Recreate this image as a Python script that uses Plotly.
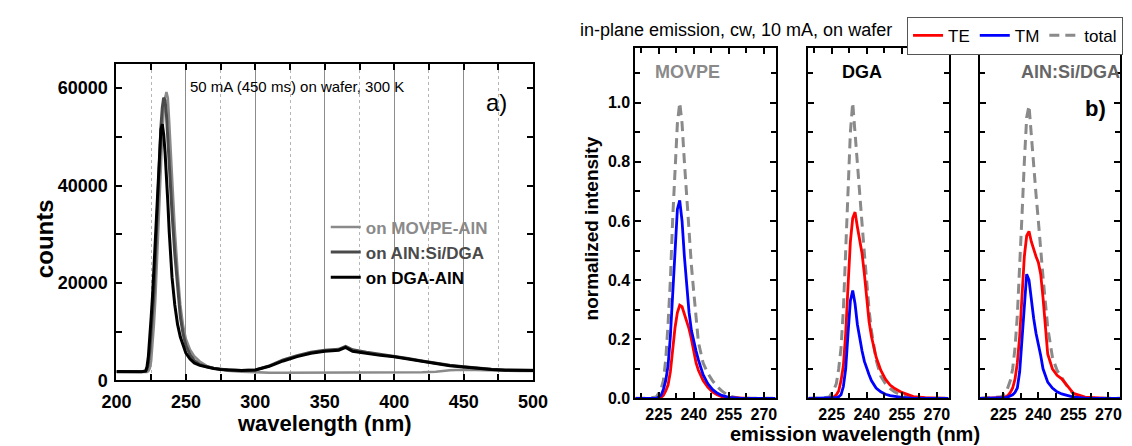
import plotly.graph_objects as go

# ---------------- data: panel a) electroluminescence spectra ----------------
wl_a = [200, 205, 210, 215, 218, 221, 222, 223, 224, 225, 226, 227, 228, 229, 230,
        231, 232, 233, 234, 235, 236, 237, 238, 239, 240, 242, 244, 246, 248, 250,
        253, 256, 260, 265, 270, 275, 280, 290, 300, 310, 320, 330, 340, 350, 360,
        365, 370, 380, 390, 400, 410, 420, 430, 440, 450, 460, 470, 480, 490, 500]

counts_movpe = [1700, 1700, 1700, 1700, 1700, 1700, 1750, 1900, 2500, 4000, 7000, 11500, 16500, 23500, 31000,
                38500, 45500, 50500, 55000, 58000, 59200, 58000, 53000, 47000, 41000, 31000, 22500, 15500, 11200, 8500,
                6300, 5000, 3900, 3000, 2500, 2200, 2000, 1800, 1650, 1600, 1600, 1600, 1650, 1600, 1650,
                1650, 1600, 1650, 1650, 1700, 1700, 1700, 1800, 2100, 2200, 2100, 2000, 1950, 1950, 1950]

counts_alnsi = [1850, 1850, 1800, 1850, 1800, 1900, 2300, 3500, 6000, 9500, 13000, 18000, 25000, 32000, 40000,
                46500, 52000, 56000, 58000, 57500, 54500, 49500, 43500, 38500, 34500, 26000, 18500, 13000, 9500, 7200,
                5300, 4100, 3300, 2800, 2500, 2300, 2150, 2050, 2150, 3000, 4200, 5100, 5800, 6200, 6400,
                7000, 6300, 5800, 5400, 5000, 4500, 4000, 3500, 3100, 2800, 2500, 2300, 2150, 2100, 2100]

counts_dga = [1850, 1800, 1850, 1800, 1800, 1950, 2800, 5000, 8500, 13000, 17500, 23500, 30000, 36500, 42500,
              47500, 51500, 52600, 50500, 46800, 42200, 36500, 30500, 25500, 21200, 15500, 11500, 8900, 7000, 5600,
              4400, 3600, 3100, 2700, 2450, 2250, 2150, 2050, 2150, 2900, 4000, 4900, 5600, 6000, 6200,
              6800, 6000, 5500, 5150, 4850, 4350, 3900, 3400, 3000, 2750, 2450, 2250, 2100, 2050, 2050]

# ---------------- data: panel b) normalized TE / TM / total ----------------
wl_b = [215, 220, 224, 226, 227, 228, 229, 230, 231, 232, 233, 234, 235, 236, 237,
        238, 239, 240, 241, 242, 244, 246, 248, 250, 252, 255, 260, 265, 270, 275]

movpe_total = [0, 0, 0.005, 0.03, 0.06, 0.13, 0.25, 0.40, 0.61, 0.80, 0.93, 1.0, 0.93, 0.80, 0.68,
               0.55, 0.45, 0.36, 0.28, 0.19, 0.12, 0.085, 0.06, 0.04, 0.025, 0.008, 0, 0, 0, 0]
movpe_te = [0, 0, 0, 0.003, 0.01, 0.025, 0.045, 0.09, 0.17, 0.24, 0.29, 0.315, 0.31, 0.285, 0.26,
            0.235, 0.20, 0.16, 0.12, 0.095, 0.06, 0.038, 0.022, 0.012, 0.006, 0.002, 0, 0, 0, 0]
movpe_tm = [0, 0, 0, 0.01, 0.03, 0.06, 0.11, 0.21, 0.35, 0.52, 0.64, 0.67, 0.60, 0.48, 0.38,
            0.29, 0.23, 0.19, 0.16, 0.13, 0.08, 0.05, 0.03, 0.018, 0.01, 0.003, 0, 0, 0, 0]

dga_total = [0, 0, 0.005, 0.03, 0.05, 0.10, 0.17, 0.30, 0.50, 0.70, 0.90, 1.0, 0.89, 0.79, 0.69,
             0.59, 0.49, 0.38, 0.30, 0.23, 0.13, 0.075, 0.05, 0.033, 0.022, 0.01, 0.002, 0, 0, 0]
dga_te = [0, 0, 0, 0.005, 0.012, 0.025, 0.06, 0.11, 0.22, 0.38, 0.53, 0.61, 0.63, 0.58, 0.53,
          0.49, 0.42, 0.33, 0.26, 0.21, 0.14, 0.095, 0.065, 0.045, 0.033, 0.02, 0.006, 0.002, 0, 0]
dga_tm = [0, 0, 0, 0, 0.002, 0.005, 0.012, 0.04, 0.10, 0.22, 0.33, 0.365, 0.32, 0.25, 0.20,
          0.16, 0.125, 0.10, 0.08, 0.06, 0.035, 0.022, 0.014, 0.009, 0.006, 0.003, 0, 0, 0, 0]

alnsi_total = [0, 0.003, 0.005, 0.015, 0.035, 0.06, 0.10, 0.17, 0.28, 0.43, 0.62, 0.80, 0.95, 0.99, 0.88,
               0.77, 0.69, 0.60, 0.50, 0.41, 0.24, 0.14, 0.095, 0.07, 0.045, 0.015, 0.002, 0, 0, 0]
alnsi_te = [0, 0, 0.002, 0.005, 0.01, 0.02, 0.035, 0.065, 0.12, 0.21, 0.36, 0.48, 0.55, 0.565, 0.53,
            0.50, 0.48, 0.46, 0.42, 0.34, 0.15, 0.10, 0.078, 0.066, 0.045, 0.017, 0.004, 0.001, 0, 0]
alnsi_tm = [0, 0, 0, 0.002, 0.005, 0.008, 0.012, 0.02, 0.035, 0.09, 0.20, 0.32, 0.42, 0.40, 0.33,
            0.27, 0.22, 0.185, 0.145, 0.10, 0.055, 0.035, 0.022, 0.015, 0.01, 0.004, 0.001, 0, 0, 0]

panel_names = ["MOVPE", "DGA", "AlN:Si/DGA"]
panel_series = [(movpe_te, movpe_tm, movpe_total),
                (dga_te, dga_tm, dga_total),
                (alnsi_te, alnsi_tm, alnsi_total)]

# ---------------- figure ----------------
W, H = 1132, 446
FONT = "Arial, Liberation Sans, Helvetica, sans-serif"


def fx(p):
    return p / W


def fy(p):
    return 1 - p / H


fig = go.Figure()

# panel a traces
for name, vals, col, w in [("on MOVPE-AlN", counts_movpe, "#8a8a8a", 2.5),
                           ("on AlN:Si/DGA", counts_alnsi, "#4a4a4a", 3),
                           ("on DGA-AlN", counts_dga, "#000000", 3)]:
    fig.add_trace(go.Scatter(
        x=wl_a, y=vals, mode="lines", xaxis="x", yaxis="y",
        line=dict(color=col, width=w),
        name=f"<span style='color:{col}'>{name}</span>",
        legend="legend", showlegend=True))

# panel b traces
DASH = "10px,6px"
for i, (te, tm, tot) in enumerate(panel_series):
    xa = f"x{i + 2}"
    ya = f"y{i + 2}"
    show = (i == 0)
    fig.add_trace(go.Scatter(x=wl_b, y=tot, mode="lines", xaxis=xa, yaxis=ya,
                             line=dict(color="#8a8a8a", width=3, dash=DASH),
                             name="total", legend="legend2", showlegend=False))
    fig.add_trace(go.Scatter(x=wl_b, y=te, mode="lines", xaxis=xa, yaxis=ya,
                             line=dict(color="#ff0000", width=2.8),
                             name="TE", legend="legend2", showlegend=show))
    fig.add_trace(go.Scatter(x=wl_b, y=tm, mode="lines", xaxis=xa, yaxis=ya,
                             line=dict(color="#0000ff", width=2.8),
                             name="TM", legend="legend2", showlegend=show))
# legend entry for total (last in order)
fig.add_trace(go.Scatter(x=[None], y=[None], mode="lines", xaxis="x2", yaxis="y2",
                         line=dict(color="#8a8a8a", width=3, dash=DASH),
                         name="total", legend="legend2", showlegend=True))

axis_common = dict(showline=True, linewidth=2, linecolor="black", mirror="ticks",
                   ticks="inside", tickwidth=1.5, tickcolor="black", zeroline=False)

layout = dict(
    width=W, height=H, autosize=False,
    margin=dict(l=0, r=0, t=0, b=0),
    paper_bgcolor="white", plot_bgcolor="white",
    font=dict(family=FONT, color="black"),
    xaxis=dict(domain=[fx(96), fx(524)], range=[200, 500], anchor="y",
               tick0=200, dtick=50, ticklen=6, ticklabelstandoff=4,
               showgrid=True, gridcolor="#8c8c8c", gridwidth=1,
               minor=dict(dtick=25, tick0=200, ticks="inside", ticklen=6, tickcolor="black",
                          showgrid=True, griddash="dot", gridcolor="#b5b5b5", gridwidth=1),
               tickfont=dict(size=18, weight="bold", family=FONT),
               **axis_common),
    yaxis=dict(domain=[fy(381), fy(57)], range=[0, 65000], anchor="x",
               tick0=0, dtick=20000, tickformat="d", ticklen=6, ticklabelstandoff=3,
               showgrid=False,
               minor=dict(dtick=10000, ticks="inside", ticklen=6, tickcolor="black"),
               tickfont=dict(size=18, weight="bold", family=FONT),
               **axis_common),
    legend=dict(x=fx(311), y=fy(206), xanchor="left", yanchor="top",
                bgcolor="rgba(0,0,0,0)", borderwidth=0,
                font=dict(size=17, weight="bold", family=FONT),
                traceorder="normal", tracegroupgap=0),
    legend2=dict(orientation="h", x=fx(1130), y=fy(9), xanchor="right", yanchor="top",
                 bgcolor="white", bordercolor="#555555", borderwidth=1,
                 font=dict(size=17, family=FONT), traceorder="normal"),
)

right_left = [629, 806.7, 983]
for i, lft in enumerate(right_left):
    n = i + 2
    layout[f"xaxis{n}"] = dict(domain=[fx(lft), fx(lft + 144)], range=[215, 275], anchor=f"y{n}",
                               tick0=225, dtick=15, ticklen=6, showgrid=False,
                               minor=dict(dtick=7.5, tick0=225, ticks="inside", ticklen=5, tickcolor="black"),
                               tickfont=dict(size=16, weight="bold", family=FONT),
                               **axis_common)
    layout[f"yaxis{n}"] = dict(domain=[fy(399.3), fy(41)], range=[0, 1.185], anchor=f"x{n}",
                               tick0=0, dtick=0.2, tickformat=".1f", ticklen=6, showgrid=False,
                               showticklabels=(i == 0),
                               minor=dict(dtick=0.1, ticks="inside", ticklen=5, tickcolor="black"),
                               tickfont=dict(size=16, weight="bold", family=FONT),
                               **axis_common)

fig.update_layout(**layout)

ann = []
# panel a texts
ann.append(dict(text="counts", x=fx(22), y=fy(236), textangle=-90, showarrow=False,
                xref="paper", yref="paper", xanchor="center", yanchor="middle",
                font=dict(size=24, weight="bold", family=FONT)))
ann.append(dict(text="wavelength (nm)", x=fx(310), y=fy(425), showarrow=False,
                xref="paper", yref="paper", xanchor="center", yanchor="middle",
                font=dict(size=22, weight="bold", family=FONT)))
ann.append(dict(text="50 mA (450 ms) on wafer, 300 K", x=fx(169), y=fy(80), showarrow=False,
                xref="paper", yref="paper", xanchor="left", yanchor="middle",
                font=dict(size=15, family=FONT)))
ann.append(dict(text="a)", x=fx(486), y=fy(97), showarrow=False,
                xref="paper", yref="paper", xanchor="center", yanchor="middle",
                font=dict(size=24, family=FONT)))
# panel b texts
ann.append(dict(text="in-plane emission, cw, 10 mA, on wafer", x=fx(570), y=fy(23), showarrow=False,
                xref="paper", yref="paper", xanchor="left", yanchor="middle",
                font=dict(size=18, family=FONT)))
ann.append(dict(text="normalized intensity", x=fx(584), y=fy(226), textangle=-90, showarrow=False,
                xref="paper", yref="paper", xanchor="center", yanchor="middle",
                font=dict(size=19, weight="bold", family=FONT)))
ann.append(dict(text="emission wavelength (nm)", x=fx(855), y=fy(436), showarrow=False,
                xref="paper", yref="paper", xanchor="center", yanchor="middle",
                font=dict(size=20, weight="bold", family=FONT)))
label_pos = [(683, "#8a8a8a"), (862, "#000000"), (1076, "#666666")]
for name, (cx, col) in zip(panel_names, label_pos):
    ann.append(dict(text=name, x=fx(cx), y=fy(65), showarrow=False,
                    xref="paper", yref="paper", xanchor="center", yanchor="middle",
                    font=dict(size=18, weight="bold", family=FONT, color=col)))
ann.append(dict(text="b)", x=fx(1102), y=fy(103), showarrow=False,
                xref="paper", yref="paper", xanchor="center", yanchor="middle",
                font=dict(size=22, weight="bold", family=FONT)))

fig.update_layout(annotations=ann)
fig.write_html("out.html")
